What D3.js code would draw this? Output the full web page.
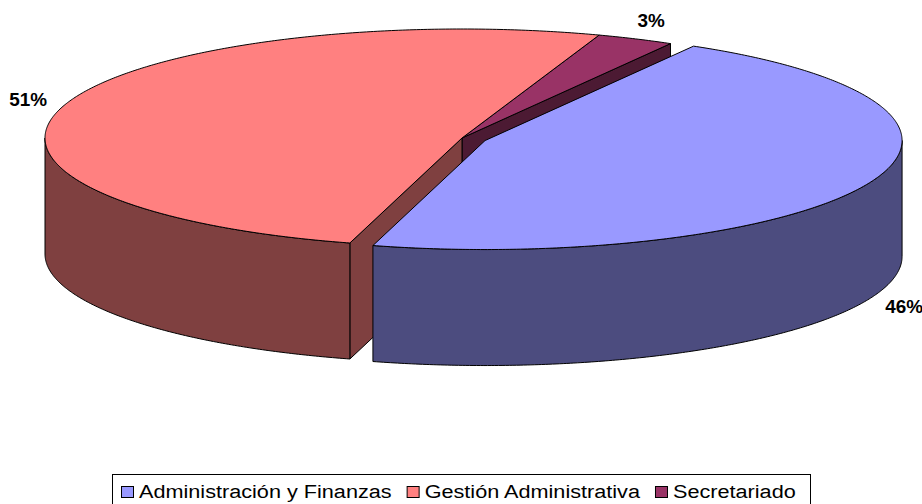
<!DOCTYPE html>
<html>
<head>
<meta charset="utf-8">
<script src="https://cdn.jsdelivr.net/npm/d3@7"></script>
<style>
  html, body { margin: 0; padding: 0; background: #fff; }
  svg { display: block; }
</style>
</head>
<body>
<svg id="chart" width="922" height="504"></svg>
<script>
// ---- data ----
const categories = ["Administración y Finanzas", "Gestión Administrativa", "Secretariado"];
const values = [46, 51, 3];
const labels = ["46%", "51%", "3%"];
const topColors = ["#9999FF", "#FF8080", "#993366"];
const sideColors = ["#4C4C7F", "#7F4040", "#4C1A33"];
const explode = [0.06, 0, 0];

// ---- geometry ----
const W = 922, H = 504;
const cx = 462, cy = 138, rx = 417, ry = 109, depth = 116;
const startRot = Math.PI / 6;

const svg = d3.select("#chart");
const font = "Arial, 'Liberation Sans', sans-serif";

const pie = d3.pie().sort(null).value(d => d)
  .startAngle(startRot).endAngle(startRot + 2 * Math.PI);
const arcs = pie(values).map((a, i) => {
  const mid = (a.startAngle + a.endAngle) / 2;
  const c = [cx + rx * explode[i] * Math.sin(mid), cy - ry * explode[i] * Math.cos(mid)];
  return { ...a, i, mid, c };
});
const n = arcs.length;

const line = d3.line();
const pt = (c, t, dy = 0) => [c[0] + rx * Math.sin(t), c[1] - ry * Math.cos(t) + dy];
function arcPts(c, t0, t1, dy = 0) {
  const m = Math.max(2, Math.ceil(Math.abs(t1 - t0) / (Math.PI / 360)));
  const pts = [];
  for (let k = 0; k <= m; k++) pts.push(pt(c, t0 + (t1 - t0) * k / m, dy));
  return pts;
}

// sides: back slices first
const order = arcs.slice().sort((a, b) => Math.cos(b.mid) - Math.cos(a.mid));
const sideG = svg.append("g");
order.forEach(a => {
  const g = sideG.append("g");
  const faces = [];
  const prev = (a.i - 1 + n) % n, next = (a.i + 1) % n;
  // radial faces (only visible ones, and only where the neighbour is pulled away)
  if (Math.sin(a.startAngle) < 0 && explode[prev] !== explode[a.i]) faces.push(a.startAngle);
  if (Math.sin(a.endAngle) > 0 && explode[next] !== explode[a.i]) faces.push(a.endAngle);
  faces.forEach(t => {
    const p = pt(a.c, t);
    const pts = [a.c, p, [p[0], p[1] + depth], [a.c[0], a.c[1] + depth]];
    g.append("path").attr("d", line(pts) + "Z")
      .attr("fill", sideColors[a.i]).attr("stroke", "#000").attr("stroke-width", 1)
      .attr("stroke-linejoin", "round");
  });
  // curved outer side (front half only)
  [[Math.PI / 2, 3 * Math.PI / 2], [Math.PI / 2 + 2 * Math.PI, 3 * Math.PI / 2 + 2 * Math.PI]].forEach(r => {
    const lo = Math.max(a.startAngle, r[0]), hi = Math.min(a.endAngle, r[1]);
    if (hi > lo) {
      const pts = arcPts(a.c, lo, hi).concat(arcPts(a.c, hi, lo, depth));
      g.append("path").attr("d", line(pts) + "Z")
        .attr("fill", sideColors[a.i]).attr("stroke", "#000").attr("stroke-width", 1)
        .attr("stroke-linejoin", "round");
    }
  });
});

// tops
const topG = svg.append("g");
order.forEach(a => {
  const pts = [a.c].concat(arcPts(a.c, a.startAngle, a.endAngle));
  topG.append("path").attr("d", line(pts) + "Z")
    .attr("fill", topColors[a.i]).attr("stroke", "#000").attr("stroke-width", 1)
    .attr("stroke-linejoin", "round");
});

// data labels
arcs.forEach(a => {
  const u = Math.sin(a.mid), v = Math.cos(a.mid);
  const x = a.c[0] + rx * 1.09 * u;
  const y = a.c[1] - ry * 1.18 * v + (v < 0 ? depth : 0);
  svg.append("text")
    .attr("transform", `translate(${x},${y}) scale(1.05,1)`)
    .attr("text-anchor", "middle").attr("dy", "0.35em")
    .style("font-family", font).style("font-weight", "bold").style("font-size", "18px")
    .attr("fill", "#000").text(labels[a.i]);
});

// legend
const sx = 1.14;
const legG = svg.append("g");
legG.append("rect")
  .attr("x", 112.5).attr("y", 474.5).attr("width", 698).attr("height", 40)
  .attr("fill", "#fff").attr("stroke", "#000").attr("stroke-width", 1);
let x = 121;
const baseY = 498;
categories.forEach((name, i) => {
  legG.append("rect")
    .attr("x", x + 0.5).attr("y", 486.5).attr("width", 12).attr("height", 11)
    .attr("fill", topColors[i]).attr("stroke", "#000").attr("stroke-width", 1);
  const tx = x + 18;
  const t = legG.append("text")
    .attr("transform", `translate(${tx},${baseY}) scale(${sx},1)`)
    .style("font-family", font).style("font-size", "19px")
    .attr("fill", "#000").text(name);
  const w = t.node().getComputedTextLength() * sx;
  x = tx + w + 15;
});
</script>
</body>
</html>
